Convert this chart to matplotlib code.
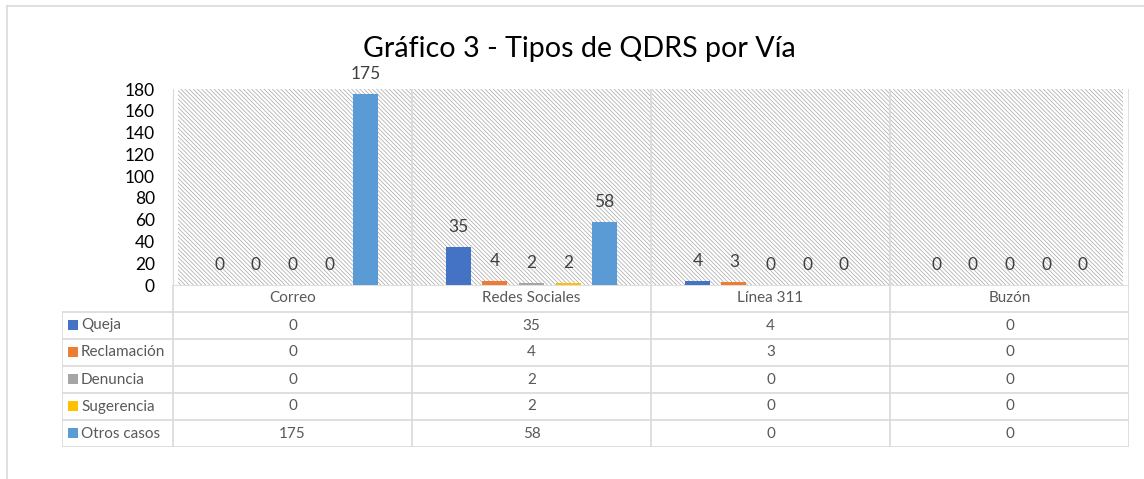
import numpy as np
import matplotlib
matplotlib.use("Agg")
from matplotlib import pyplot as plt
from matplotlib.patches import Rectangle
from matplotlib.lines import Line2D

plt.rcParams['font.family'] = ['Lato', 'DejaVu Sans']
plt.rcParams['hatch.linewidth'] = 0.5
plt.rcParams['hatch.color'] = '#a6a6a6'

categories = ['Correo', 'Redes Sociales', 'Línea 311', 'Buzón']
series_names = ['Queja', 'Reclamación', 'Denuncia', 'Sugerencia', 'Otros casos']
queja = [0, 35, 4, 0]
reclamacion = [0, 4, 3, 0]
denuncia = [0, 2, 0, 0]
sugerencia = [0, 2, 0, 0]
otros_casos = [175, 58, 0, 0]
series_values = [queja, reclamacion, denuncia, sugerencia, otros_casos]
colors = ['#4472C4', '#ED7D31', '#A5A5A5', '#FFC000', '#5B9BD5']
yticks = list(range(0, 181, 20))

W, H = 1144, 479
grid_c = '#d9d9d9'
fig = plt.figure(figsize=(W / 100, H / 100), dpi=100)

# outer chart border (top and left only visible)
fig.add_artist(Line2D([7 / W, 1], [1 - 6 / H, 1 - 6 / H], color=grid_c, lw=1.2))
fig.add_artist(Line2D([7 / W, 7 / W], [0, 1 - 6 / H], color=grid_c, lw=1.2))

px0, px1, py_top, py_bot = 173, 1129, 89, 285
ax = fig.add_axes([px0 / W, 1 - py_bot / H, (px1 - px0) / W, (py_bot - py_top) / H])
ax.set_xlim(-0.5, len(categories) - 0.5)
ax.set_ylim(0, 180)
for s in ['top', 'right', 'bottom']:
    ax.spines[s].set_visible(False)
ax.spines['left'].set_color(grid_c)
ax.set_xticks([])
ax.set_yticks(yticks)
ax.tick_params(axis='y', length=0, pad=13, labelsize=12.5, labelcolor='#000000')

# hatched plot area
ax.add_patch(Rectangle((5 / 956, 0), 945 / 956, 1, transform=ax.transAxes,
                       facecolor='white', edgecolor='#a6a6a6', lw=0,
                       hatch='\\' * 8, zorder=0))

for b in np.arange(0.5, len(categories), 1.0):
    ax.axvline(b, color=grid_c, lw=1.2, zorder=1)

x = np.arange(len(categories))
step, width = 0.153, 0.105
for i, (name, vals, c) in enumerate(zip(series_names, series_values, colors)):
    xs = x + (i - 2) * step
    ax.bar(xs, vals, width=width, color=c, lw=0, zorder=3)
    for xi, v in zip(xs, vals):
        ax.annotate(str(v), (xi, v), xytext=(0, 14.5), textcoords='offset points',
                    ha='center', va='center', fontsize=12.5, color='#404040',
                    annotation_clip=False, zorder=4)

fig.text(579 / W, 1 - 57 / H, 'Gráfico 3 - Tipos de QDRS por Vía', ha='center',
         va='baseline', fontsize=20.6, color='#000000')

# data table
tx0, ty1 = 62, 447
tax = fig.add_axes([tx0 / W, 1 - ty1 / H, (px1 - tx0) / W, (ty1 - py_bot) / H])
left_edge = -0.5 - (px0 - tx0) / 239.0
tax.set_xlim(left_edge, len(categories) - 0.5)
nrows = len(series_names) + 1
tax.set_ylim(nrows, 0)
tax.axis('off')

lk = dict(color=grid_c, lw=1.2, solid_capstyle='butt')
tax.plot([-0.5, len(categories) - 0.5], [0, 0], **lk)
for r in range(1, nrows + 1):
    tax.plot([left_edge, len(categories) - 0.5], [r, r], **lk)
tax.plot([left_edge, left_edge], [1, nrows], **lk)
tax.plot([-0.5, -0.5], [0, nrows], **lk)
for b in np.arange(0.5, len(categories), 1.0):
    tax.plot([b, b], [0, nrows], **lk)

tcol = '#595959'
for j, cat in enumerate(categories):
    tax.text(j, 0.5, cat, ha='center', va='center', fontsize=11, color=tcol)
sq = 10 / 239.0
for i, (name, vals, c) in enumerate(zip(series_names, series_values, colors)):
    r = i + 1.5
    tax.add_patch(Rectangle((left_edge + 6 / 239.0, r - 0.19), sq, 0.37,
                            facecolor=c, lw=0))
    tax.text(left_edge + 19 / 239.0, r, name, ha='left', va='center',
             fontsize=11, color=tcol)
    for j, v in enumerate(vals):
        tax.text(j, r, str(v), ha='center', va='center', fontsize=11, color=tcol)

plt.savefig('out.png', dpi=100)
